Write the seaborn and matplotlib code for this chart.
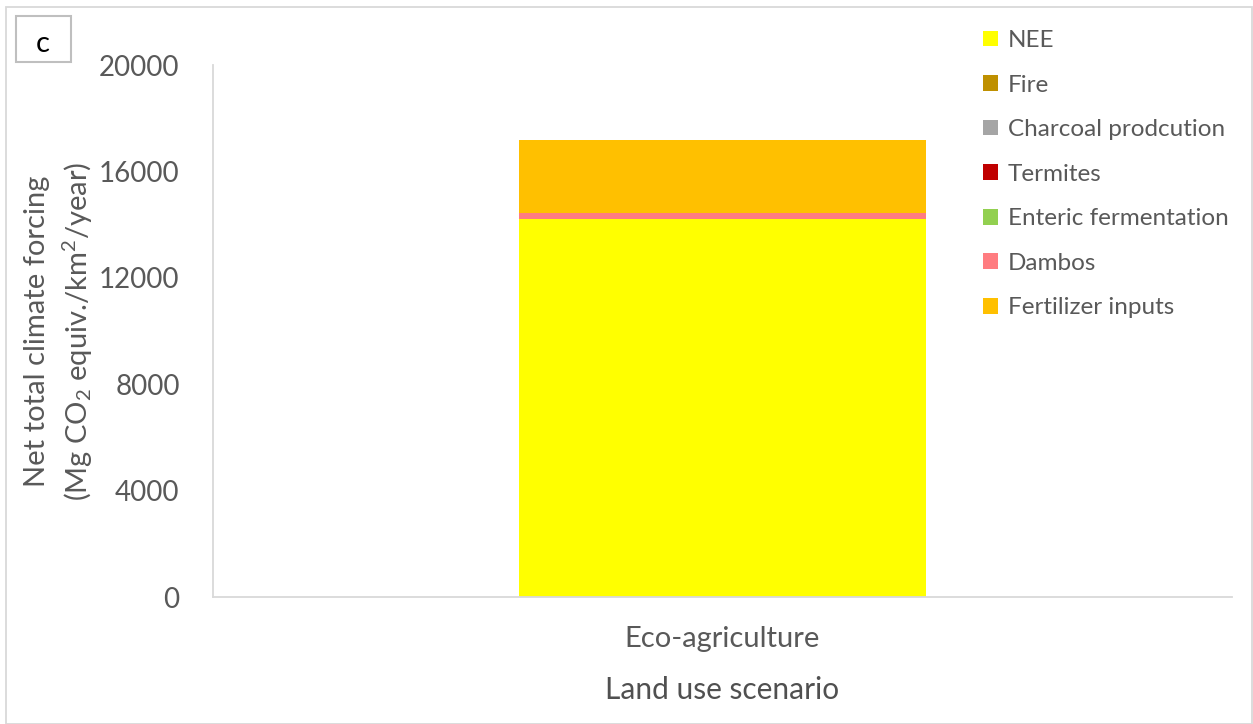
import matplotlib
matplotlib.use("Agg")
import matplotlib.pyplot as plt
from matplotlib.patches import Patch, Rectangle
import numpy as np
import pandas as pd
import seaborn as sns

# Emission components for the eco-agriculture scenario (Mg CO2 equiv./km2/year)
scenarios = ["Eco-agriculture"]
components = ["NEE", "Fire", "Charcoal prodcution", "Termites",
              "Enteric fermentation", "Dambos", "Fertilizer inputs"]
nee = [14200]
fire = [0]
charcoal = [0]
termites = [0]
enteric = [0]
dambos = [230]
fertilizer = [2750]
colors = ["#FFFF00", "#BF9000", "#A5A5A5", "#C00000",
          "#92D050", "#FF7C80", "#FFC000"]
yticks = [0, 4000, 8000, 12000, 16000, 20000]

text_color = "#595959"
line_color = "#D9D9D9"

sns.set_theme(style="white")
plt.rcParams["font.family"] = ["Lato", "DejaVu Sans"]
plt.rcParams["mathtext.fontset"] = "custom"
plt.rcParams["mathtext.rm"] = "Lato"
plt.rcParams["mathtext.it"] = "Lato"

df = pd.DataFrame({"scenario": scenarios, "NEE": nee, "Fire": fire,
                   "Charcoal prodcution": charcoal, "Termites": termites,
                   "Enteric fermentation": enteric, "Dambos": dambos,
                   "Fertilizer inputs": fertilizer})
cum = df[components].cumsum(axis=1)

fig = plt.figure(figsize=(12.53, 7.24), dpi=100)
ax = fig.add_axes([213 / 1253, 1 - 597 / 724, (1232 - 213) / 1253, (597 - 65) / 724])

# Stacked bars: draw cumulative totals from the top layer down
for comp, col in reversed(list(zip(components, colors))):
    sns.barplot(x=df["scenario"], y=cum[comp], color=col, saturation=1,
                width=0.4, ax=ax, linewidth=0, zorder=2)

ax.set_ylim(0, 20000)
ax.set_xlim(-0.5, 0.5)
ax.set_yticks(yticks)
ax.set_yticklabels([str(v) for v in yticks])
ax.tick_params(axis="y", length=0, pad=24, labelsize=20, labelcolor=text_color)
ax.tick_params(axis="x", length=0, pad=21, labelsize=21, labelcolor=text_color)
ax.set_xlabel("Land use scenario", fontsize=21.5, color="#505050", labelpad=17)
ax.set_ylabel("")
for side in ["top", "right"]:
    ax.spines[side].set_visible(False)
for side in ["left", "bottom"]:
    ax.spines[side].set_color(line_color)
    ax.spines[side].set_linewidth(1.3)
ax.grid(False)

# Two-line y-axis title
fig.text(37 / 1253, 1 - 331 / 724, "Net total climate forcing", rotation=90,
         ha="center", va="center", fontsize=21, color=text_color)
fig.text(78 / 1253, 1 - 331 / 724, r"(Mg CO$_2$ equiv./km$^2$/year)", rotation=90,
         ha="center", va="center", fontsize=21, color=text_color)

# Legend, top entry first
handles = [Patch(facecolor=c, edgecolor="none", label=l)
           for l, c in zip(components, colors)]
fig.legend(handles=handles, loc="upper left",
           bbox_to_anchor=(983 / 1253, 1 - 30 / 724), frameon=False,
           fontsize=17.5, handlelength=0.62, handleheight=0.62, handletextpad=0.4,
           labelspacing=0.97, borderpad=0, borderaxespad=0, labelcolor=text_color)

# Panel letter box and outer frame
fig.patches.append(Rectangle((16 / 1253, 1 - 62 / 724), 55 / 1253, 46 / 724,
                             transform=fig.transFigure, facecolor="white",
                             edgecolor="#BFBFBF", linewidth=1.5))
fig.text(43 / 1253, 1 - 44 / 724, "c", ha="center", va="center",
         fontsize=21, color="black")
fig.patches.append(Rectangle((6 / 1253, 0), 1 - 7 / 1253, 1 - 7 / 724,
                             transform=fig.transFigure, facecolor="none",
                             edgecolor=line_color, linewidth=1.3))

fig.savefig("out.png", dpi=100, facecolor="white")
